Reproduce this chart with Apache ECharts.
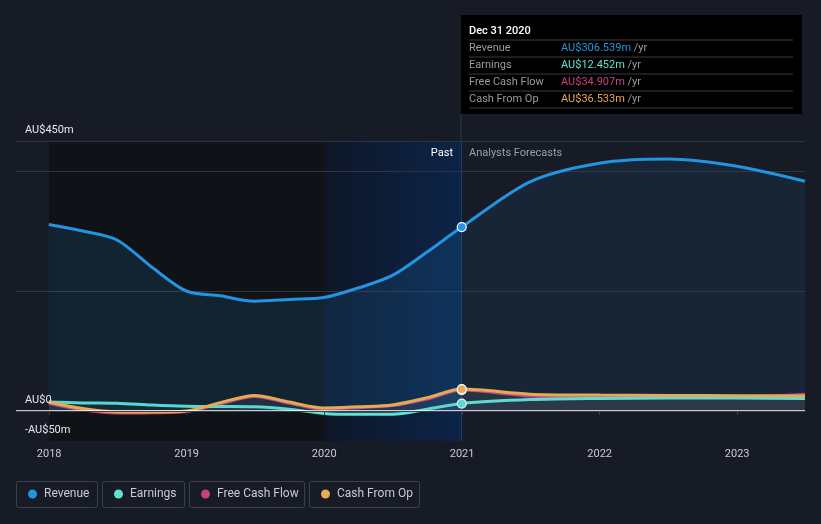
<!DOCTYPE html>
<html>
<head>
<meta charset="utf-8">
<script src="https://cdn.jsdelivr.net/npm/echarts@6/dist/echarts.min.js"></script>
<style>
html,body{margin:0;padding:0;background:#161b26;}
#c{width:821px;height:524px;}
</style>
</head>
<body>
<div id="c"></div>
<script>
const dates = ['2017-12-31','2018-03-31','2018-06-30','2018-09-30','2018-12-31','2019-03-31','2019-06-30','2019-09-30','2019-12-31','2020-03-31','2020-06-30','2020-09-30','2020-12-31','2021-06-30','2021-12-31','2022-06-30','2022-12-31','2023-06-30'];
const revenue = [311,300,285,240,200,192,183,186,189,205,226,265,306.539,382,413,420,408,383];
const earnings = [15,13.5,13,10,8,7.5,7,3,-4,-5.5,-5.5,3,12.452,19,21,21.5,21.5,21];
const freeCashFlow = [13,2,-3.5,-3,-1,12,24,13,3,5.5,9,20,34.907,25,23,22.5,23,28];
const cashFromOp = [15,4,-1.5,-1.5,0,14,26,15,5,7,10,22,36.533,28,26.5,26,25.5,25];
const yTickLabels = {'450':'AU$450m','0':'AU$0','-50':'-AU$50m'};
const seriesNames = ['Revenue','Earnings','Free Cash Flow','Cash From Op'];
const colors = ['#2394df','#5fe3d1','#c8417f','#e8a953'];
const tooltipDate = 'Dec 31 2020';
const tooltipValues = ['AU$306.539m','AU$12.452m','AU$34.907m','AU$36.533m'];
const markerDate = '2020-12-31';

const chart = echarts.init(document.getElementById('c'));

function buildData(vals){
  return dates.map((d,i)=>{
    if(d===markerDate){
      return {value:[d,vals[i]], symbol:'circle', symbolSize:9};
    }
    return [d,vals[i]];
  });
}
const allVals = [revenue, earnings, freeCashFlow, cashFromOp];
const zOrder = [5,4,3,6];

const revArea = {type:'linear', x:0, y:0, x2:1, y2:0, colorStops:[
  {offset:0, color:'rgba(35,148,223,0.19)'},
  {offset:0.545, color:'rgba(35,148,223,0.19)'},
  {offset:0.546, color:'rgba(35,148,223,0.12)'},
  {offset:1, color:'rgba(35,148,223,0.12)'}
]};

const series = [{
  name:'bg', type:'line', data:[], z:1, silent:true,
  markArea:{
    silent:true, z:1,
    data:[
      [{xAxis:'2018-01-01', itemStyle:{color:'#0f1217'}},{xAxis:'2020-01-01'}],
      [{xAxis:'2020-01-01', itemStyle:{color:{type:'linear',x:0,y:0,x2:1,y2:0,colorStops:[{offset:0,color:'#0e1628'},{offset:1,color:'#0c2448'}]}}},{xAxis:'2021-01-01'}]
    ]
  },
  markLine:{
    silent:true, symbol:'none', label:{show:false}, z:2,
    data:[
      {yAxis:450, lineStyle:{color:'#2e3440', width:1, type:'solid'}},
      {yAxis:400, lineStyle:{color:'#2e3440', width:1, type:'solid'}},
      {yAxis:200, lineStyle:{color:'#2e3440', width:1, type:'solid'}},
      {xAxis:'2020-12-31', lineStyle:{color:'#1f3c63', width:1, type:'solid'}}
    ]
  }
}, {
  name:'zero', type:'line', data:[], z:7, silent:true,
  markLine:{
    silent:true, symbol:'none', label:{show:false}, z:7,
    data:[{yAxis:0, lineStyle:{color:'#ffffff', width:1.6, type:'solid', opacity:1}}]
  }
}].concat(seriesNames.map((name,k)=>({
  name:name, type:'line', data:buildData(allVals[k]),
  smooth:0.3, symbol:'none', showSymbol:true,
  lineStyle:{color:colors[k], width:3},
  itemStyle:{color:colors[k], borderColor:'#ffffff', borderWidth:1.2},
  z: zOrder[k],
  areaStyle: k===0 ? {color:revArea} : {color:'rgba(200,200,215,0.06)'},
  emphasis:{disabled:true}
})));

const legendX = [28,114,201,321];
const legends = seriesNames.map((n,k)=>({
  data:[n], left:legendX[k], top:488, padding:0, icon:'circle', itemWidth:9, itemHeight:9, itemGap:0,
  selectedMode:false,
  itemStyle:{borderWidth:0},
  textStyle:{color:'#c9ccd1', fontSize:12, fontFamily:'Roboto', padding:[0,0,0,2]}
}));

const boxes = [[16,81],[102,82],[189,115],[309,110]];
const graphic = [];
boxes.forEach(b=>{
  graphic.push({type:'rect', shape:{x:b[0]+0.5, y:481.5, width:b[1], height:26, r:2}, style:{fill:'none', stroke:'#3a3f4a', lineWidth:1}, silent:true, z:-1});
});
// tooltip box
graphic.push({type:'rect', shape:{x:461, y:15, width:341, height:99}, style:{fill:'#000000'}, silent:true, z:10});
graphic.push({type:'line', shape:{x1:461, y1:114, x2:461, y2:141}, style:{stroke:'#1f3c63', lineWidth:1}, silent:true, z:10});
graphic.push({type:'text', x:469, y:31, style:{text:tooltipDate, fill:'#ffffff', font:'500 11px Roboto', verticalAlign:'middle'}, silent:true, z:11});
[40,57,74,91,108].forEach(y=>{
  graphic.push({type:'line', shape:{x1:469, y1:y, x2:793, y2:y}, style:{stroke:'#3a3a3a', lineWidth:1}, silent:true, z:11});
});
[48,65,82,99].forEach((y,k)=>{
  graphic.push({type:'text', x:469, y:y, style:{text:seriesNames[k], fill:'#9b9b9b', font:'11px Roboto', verticalAlign:'middle'}, silent:true, z:11});
  graphic.push({type:'text', x:561, y:y, style:{
    text:'{v|'+tooltipValues[k]+'}{u| /yr}', verticalAlign:'middle',
    rich:{v:{fill:colors[k], font:'11px Roboto'}, u:{fill:'#9b9b9b', font:'11px Roboto'}}
  }, silent:true, z:11});
});
graphic.push({type:'text', x:453, y:153, style:{text:'Past', fill:'#ffffff', font:'11px Roboto', align:'right', verticalAlign:'middle'}, silent:true, z:11});
graphic.push({type:'text', x:469, y:153, style:{text:'Analysts Forecasts', fill:'#9aa0a8', font:'11px Roboto', align:'left', verticalAlign:'middle'}, silent:true, z:11});

chart.setOption({
  backgroundColor:'#161b26',
  animation:false,
  grid:{left:16, right:16, top:141, bottom:83},
  xAxis:{
    type:'time', min:'2017-10-05', max:'2023-06-30', z:10,
    minInterval:365*86400000, maxInterval:366*86400000,
    axisLine:{show:true, lineStyle:{color:'#3a3f4a', width:1}},
    axisTick:{show:true, length:4, lineStyle:{color:'#3a3f4a'}},
    axisLabel:{color:'#c9ccd1', fontSize:11, fontFamily:'Roboto', margin:8, formatter:'{yyyy}', showMinLabel:false, showMaxLabel:false},
    splitLine:{show:false}
  },
  yAxis:{
    type:'value', min:-50, max:450, interval:50, z:10,
    axisLine:{show:false}, axisTick:{show:false}, splitLine:{show:false},
    axisLabel:{inside:true, margin:9, color:'#e6e8eb', fontSize:11, fontFamily:'Roboto', verticalAlign:'bottom', padding:[0,0,5,0],
      formatter:v=> (yTickLabels[String(v)]||'')}
  },
  legend:legends,
  series:series,
  graphic:graphic
});
</script>
</body>
</html>
